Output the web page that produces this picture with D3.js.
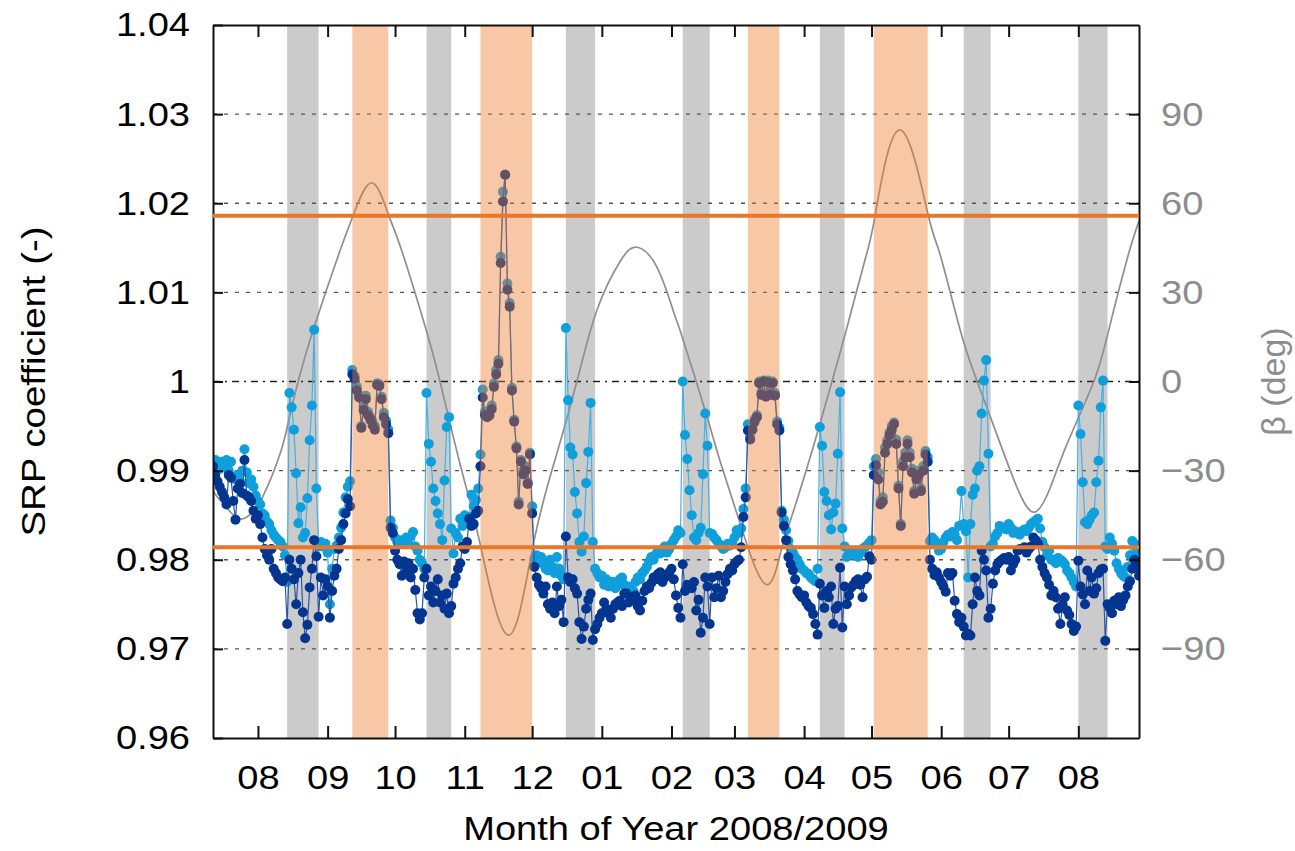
<!DOCTYPE html>
<html>
  <head>
    <title>SRP coefficient and beta angle 2008/2009</title>
    <meta charset="UTF-8">
    <style>
      body { margin: 0; background: #fff; }
      svg { display: block; }
    </style>
  </head>
  <body>

    <svg></svg>

    <script src="https://d3js.org/d3.v7.min.js"></script>
    <script>

/* DATA */

// one value per day, first day is startDay
var startDay = "2008-07-12";
var endDay = "2009-08-28";

var srpLight = [
  .9905,.9912,.9908,.9902,.9910,.9907,.9912,.9900,.9910,.9893,
  .9890,.9895,.9888,.9900,.9924,.9898,.9886,.9890,.9882,.9872,
  .9866,.9862,.9852,.9850,.9843,.9840,.9833,.9828,.9825,.9822,
  .9820,.9815,.9805,
  .9775,.9987,.9971,.9946,.9897,.9841,.9859,.9825,.9830,.9869,.9934,.9973,1.0058,.9880,.9815,
  .9820,.9815,.9818,.9808,.9750,.9790,.9812,.9816,.9825,.9836,.9853,.9870,.9882,.9888,
  1.0013,1.0006,.9994,.9985,.9950,.9972,.9984,.9966,.9960,.9955,.9950,.9998,.9997,.9983,.9965,.9956,.9946,
  .9844,.9836,.9825,.9820,.9818,.9822,.9818,.9825,.9818,.9826,.9831,.9815,.9810,.9800,.9796,.9790,
  .9987,.9930,.9910,.9880,.9866,.9852,.9840,.9822,.9889,.9949,.9960,.9835,
  .9807,.9830,.9825,.9846,.9838,.9850,.9845,.9848,.9873,.9860,.9867,.9880,
  .9918,.9991,.9966,.9964,.9968,.9973,.9998,1.0013,1.0024,1.0140,
  1.0213,1.0232,1.0110,1.0088,.9993,.9957,.9927,.9865,.9912,.9900,
  .9905,.9887,.9920,.9860,
  .9801,.9805,.9798,.9803,.9795,.9790,.9788,.9800,.9792,.9785,.9803,.9790,.9782,.9778,
  1.0060,.9979,.9926,.9918,.9876,.9852,.9820,.9809,.9826,.9886,.9921,.9976,.9820,.9790,
  .9785,.9780,.9782,.9772,.9778,.9770,.9775,.9775,.9768,.9772,
  .9778,.9780,.9772,.9770,.9766,.9770,.9765,.9775,.9780,.9778,
  .9785,.9788,.9792,.9798,.9803,.9800,.9806,.9810,.9807,.9812,
  .9815,.9808,.9812,.9818,.9822,.9826,.9833,.9830,
  1.0000,.9940,.9913,.9878,.9850,.9825,.9822,.9830,.9836,.9896,.9964,.9928,.9830,
  .9829,.9825,.9822,.9818,.9815,.9812,.9814,.9818,.9816,.9819,.9825,.9833,.9830,.9835,.9857,.9880,
  .9952,.9938,.9950,.9958,.9962,1.0000,.9988,1.0001,.9986,1.0001,.9988,1.0000,.9987,.9955,.9948,
  .9855,.9845,.9833,.9821,.9812,.9808,.9803,.9800,.9795,.9790,.9788,.9785,.9784,.9780,.9778,.9776,.9790,
  .9949,.9928,.9876,.9866,.9850,.9834,.9853,.9863,.9919,.9988,.9835,.9815,
  .9803,.9808,.9810,.9806,.9810,.9803,.9808,.9812,.9814,.9816,.9819,.9822,
  .9905,.9913,.9898,.9866,.9870,.9926,.9934,.9943,.9950,.9954,
  .9935,.9883,.9840,.9910,.9920,.9934,.9920,.9902,.9877,.9893,
  .9900,.9880,.9905,.9922,.9915,
  .9821,.9825,.9822,.9818,.9810,.9812,.9820,.9825,.9828,.9826,.9831,.9828,.9822,.9838,.9877,
  .9840,.9832,.9780,.9840,.9873,.9880,.9900,.9905,.9964,1.0001,1.0024,.9919,.9815,
  .9818,.9826,.9830,.9838,.9836,.9835,.9834,.9840,.9836,.9830,
  .9832,.9830,.9828,.9832,.9834,.9832,.9836,.9840,.9842,.9844,
  .9846,.9835,.9820,.9814,.9805,.9810,.9800,.9800,.9796,.9802,
  .9800,.9798,.9795,.9788,.9785,.9780,.9775,.9770,
  .9973,.9941,.9887,.9842,.9840,.9845,.9850,.9853,.9887,.9911,.9971,1.0001,.9815,.9812,
  .9825,.9818,.9810,.9796,.9790,.9785,.9782,.9780,.9792,.9805,.9821,.9818,.9810,.9795
];

var srpDark = [
  .9905,.9895,.9888,.9882,.9876,.9870,.9862,.9895,.9892,.9866,
  .9845,.9880,.9885,.9875,.9912,.9872,.9870,.9866,.9855,.9846,
  .9850,.9840,.9825,.9812,.9805,.9800,.9812,.9790,.9785,.9780,
  .9778,.9776,.9780,
  .9728,.9800,.9790,.9778,.9750,.9785,.9800,.9741,.9712,.9727,.9769,.9790,.9822,.9804,.9736,
  .9780,.9760,.9778,.9770,.9735,.9765,.9782,.9790,.9812,.9822,.9840,.9852,.9868,.9860,
  1.0008,1.0003,.9990,.9982,.9948,.9968,.9980,.9962,.9957,.9951,.9946,.9996,.9995,.9980,.9960,.9952,.9942,
  .9836,.9830,.9810,.9800,.9795,.9782,.9798,.9788,.9796,.9780,.9790,.9766,.9740,.9733,.9740,.9780,
  .9790,.9760,.9770,.9752,.9765,.9778,.9752,.9760,.9745,.9762,.9740,.9748,
  .9773,.9780,.9790,.9796,.9815,.9812,.9820,.9846,.9838,.9840,.9852,.9855,
  .9905,.9982,.9962,.9960,.9962,.9969,.9994,1.0008,1.0020,1.0133,
  1.0202,1.0232,1.0103,1.0084,.9990,.9955,.9925,.9862,.9910,.9896,
  .9900,.9885,.9918,.9852,
  .9792,.9780,.9772,.9768,.9762,.9770,.9750,.9745,.9752,.9740,.9770,.9748,.9755,.9730,
  .9826,.9780,.9775,.9778,.9768,.9762,.9730,.9711,.9725,.9745,.9755,.9762,.9710,.9722,
  .9728,.9735,.9740,.9752,.9745,.9740,.9735,.9745,.9750,.9752,
  .9754,.9748,.9762,.9762,.9752,.9758,.9755,.9760,.9748,.9743,
  .9754,.9765,.9770,.9768,.9774,.9780,.9778,.9784,.9786,.9775,
  .9780,.9782,.9786,.9790,.9778,.9760,.9746,.9735,
  .9795,.9765,.9772,.9770,.9768,.9775,.9743,.9755,.9718,.9735,.9780,.9770,.9728,
  .9780,.9758,.9768,.9782,.9758,.9765,.9775,.9784,.9790,.9788,.9795,.9798,.9800,.9814,.9848,.9870,
  .9945,.9935,.9946,.9955,.9960,.9998,.9985,1.0000,.9983,.9999,.9985,.9998,.9984,.9952,.9945,
  .9853,.9838,.9822,.9803,.9795,.9788,.9778,.9765,.9761,.9758,.9760,.9752,.9748,.9746,.9739,.9728,.9716,
  .9773,.9760,.9746,.9765,.9758,.9770,.9728,.9745,.9748,.9791,.9724,.9770,
  .9750,.9760,.9769,.9772,.9776,.9778,.9772,.9758,.9778,.9781,.9804,.9800,
  .9895,.9906,.9890,.9862,.9865,.9920,.9930,.9940,.9946,.9952,
  .9930,.9880,.9838,.9905,.9915,.9930,.9915,.9898,.9874,.9890,
  .9895,.9877,.9900,.9918,.9910,
  .9800,.9790,.9783,.9786,.9780,.9775,.9770,.9764,.9785,.9782,.9785,.9754,.9739,.9730,.9735,
  .9725,.9715,.9717,.9715,.9750,.9780,.9765,.9760,.9810,.9800,.9788,.9735,.9745,
  .9773,.9788,.9795,.9798,.9800,.9802,.9800,.9803,.9788,.9795,
  .9800,.9810,.9812,.9812,.9814,.9808,.9812,.9815,.9825,.9822,
  .9818,.9800,.9792,.9785,.9780,.9772,.9760,.9765,.9758,.9745,
  .9728,.9750,.9758,.9743,.9738,.9728,.9720,.9725,
  .9799,.9770,.9761,.9750,.9788,.9765,.9780,.9762,.9768,.9785,.9789,.9790,.9709,.9750,
  .9746,.9740,.9754,.9750,.9758,.9748,.9755,.9760,.9770,.9776,.9790,.9800,.9792,.9782
];

// beta angle (deg), read at day offsets from startDay
var betaDay = [0, 6, 12, 17, 22, 30, 34, 38.6, 44.5, 56.5, 62.8, 70.6, 77.9, 84, 94.8,
  101, 110, 118.8, 131.4, 142.6, 153, 161.9, 170.8, 181.2, 188.6, 197.5, 204.9, 207.9,
  215, 221.2, 225.7, 234.6, 245.7, 252.4, 256.8, 265.7, 275.4, 282, 290.1, 294.8, 305.6,
  318, 323.4, 332.5, 340, 350.3, 357.7, 365.2, 372.6, 380, 391.9, 398.5, 407, 412];
var betaDeg = [-37, -42.5, -46.3, -44.5, -39, -24, -12, 2, 17.2, 44, 56.7, 66.9, 56.5, 44, 17.5,
  0, -28, -54.5, -85.4, -54.5, -24.2, 0, 24, 40.5, 45.2, 38.5, 23.5, 17,
  0, -15.4, -27, -48, -68.2, -58, -47, -25.5, 0, 18, 41, 56.7, 84.7,
  56.7, 43, 17.2, 0, -21, -35.6, -44, -35.6, -21, 0, 17.2, 42, 54];

// eclipse seasons (grey) and high beta periods (orange)
var eclipseSeasons = [
  ["2008-08-14", "2008-08-28"], ["2008-10-15", "2008-10-26"], ["2008-12-16", "2008-12-29"],
  ["2009-02-06", "2009-02-18"], ["2009-04-08", "2009-04-19"], ["2009-06-11", "2009-06-23"],
  ["2009-08-01", "2009-08-14"]
];
var highBeta = [
  ["2008-09-12", "2008-09-28"], ["2008-11-08", "2008-12-01"],
  ["2009-03-07", "2009-03-21"], ["2009-05-02", "2009-05-26"]
];
var betaLimit = [-55.8, 55.8];

var srpTicks = [0.96, 0.97, 0.98, 0.99, 1.00, 1.01, 1.02, 1.03, 1.04];
var betaTicks = [-90, -60, -30, 0, 30, 60, 90];

var config = {
  "width": 1295,
  "height": 851,
  "margin": { "top": 25, "right": 156, "bottom": 113, "left": 213 },
  "font": "'Liberation Sans', Arial, Helvetica, sans-serif",
  "fontSize": 34,
  "stretch": 1.12,
  "dot": 5,
  "colors": {
    "light": "#0f9fdc", "lightLine": "#45b1e3",
    "dark": "#033591", "darkLine": "#2b56a6",
    "beta": "#8f8f8f", "eclipse": "#cbcbcb",
    "high": "#eb7a2a", "limit": "#e8772a", "y2": "#8c8c8c"
  }
};

/* BUILD */

var parse = d3.utcParse("%Y-%m-%d");
var day0 = parse(startDay);
function dayDate(d) { return new Date(day0.getTime() + d * 864e5); }

var svg = d3.select("svg")
    .attr("width", config.width)
    .attr("height", config.height)
    .style("font-family", config.font),
    margin = config.margin,
    width = config.width - margin.left - margin.right,
    height = config.height - margin.top - margin.bottom,
    g = svg.append("g").attr("transform", "translate(" + margin.left + "," + margin.top + ")");

var x = d3.scaleUtc().domain([day0, parse(endDay)]).range([0, width]);
var y = d3.scaleLinear().domain([0.96, 1.04]).range([height, 0]);
var y2 = d3.scaleLinear().domain([-120, 120]).range([height, 0]);

// stretch text horizontally (the picture is wider than tall)
function stretch(sel) {
  sel.each(function() {
    var w = this.getComputedTextLength();
    d3.select(this).attr("textLength", w * config.stretch).attr("lengthAdjust", "spacingAndGlyphs");
  });
}

svg.append("defs").append("clipPath").attr("id", "plot")
  .append("rect").attr("width", width).attr("height", height);

var plot = g.append("g").attr("clip-path", "url(#plot)");

// eclipse seasons
plot.append("g").selectAll("rect")
  .data(eclipseSeasons)
  .enter().append("rect")
    .attr("x", function(d) { return x(parse(d[0])); })
    .attr("width", function(d) { return x(parse(d[1])) - x(parse(d[0])); })
    .attr("y", 0)
    .attr("height", height)
    .attr("fill", config.colors.eclipse);

// grid
plot.append("g").selectAll("line")
  .data(srpTicks.slice(1, -1))
  .enter().append("line")
    .attr("x1", 0).attr("x2", width)
    .attr("y1", function(d) { return y(d); })
    .attr("y2", function(d) { return y(d); })
    .attr("stroke", function(d) { return d == 1 ? "#222" : "#555"; })
    .attr("stroke-width", 1.4)
    .attr("stroke-dasharray", function(d) { return d == 1 ? "7,5,2,5" : "4,7"; });

// beta angle
var betaPts = betaDay.map(function(d, i) { return [dayDate(d), betaDeg[i]]; });
plot.append("path")
  .datum(betaPts)
  .attr("fill", "none")
  .attr("stroke", config.colors.beta)
  .attr("stroke-width", 1.7)
  .attr("d", d3.line()
    .curve(d3.curveNatural)
    .x(function(d) { return x(d[0]); })
    .y(function(d) { return y2(d[1]); }));

// the two SRP series
function drawSeries(values, dotColor, lineColor) {
  var pts = values.map(function(v, i) { return [d3.utcDay.offset(day0, i), v]; });
  var s = plot.append("g");
  s.append("path")
    .datum(pts)
    .attr("fill", "none")
    .attr("stroke", lineColor)
    .attr("stroke-width", 1.2)
    .attr("d", d3.line()
      .x(function(d) { return x(d[0]); })
      .y(function(d) { return y(d[1]); }));
  s.selectAll("circle")
    .data(pts)
    .enter().append("circle")
      .attr("cx", function(d) { return x(d[0]); })
      .attr("cy", function(d) { return y(d[1]); })
      .attr("r", config.dot)
      .attr("fill", dotColor);
}
drawSeries(srpLight, config.colors.light, config.colors.lightLine);
drawSeries(srpDark, config.colors.dark, config.colors.darkLine);

// axes
var monthTicks = x.ticks(d3.utcMonth.every(1));

function styleAxis(a) {
  a.attr("font-family", null).attr("font-size", null);
  a.select(".domain").attr("stroke", "#111").attr("stroke-width", 2);
  a.selectAll(".tick line").attr("stroke", "#111").attr("stroke-width", 2);
  a.selectAll("text").style("font-size", config.fontSize + "px");
}

var xb = g.append("g")
  .attr("transform", "translate(0," + height + ")")
  .call(d3.axisBottom(x).tickValues(monthTicks).tickFormat(d3.utcFormat("%m"))
    .tickSizeInner(-12).tickSizeOuter(0).tickPadding(27));
styleAxis(xb);
xb.selectAll("text").attr("fill", "#000").call(stretch);

var xt = g.append("g")
  .call(d3.axisTop(x).tickValues(monthTicks).tickFormat("")
    .tickSizeInner(-12).tickSizeOuter(0));
styleAxis(xt);

var yl = g.append("g")
  .call(d3.axisLeft(y).tickValues(srpTicks)
    .tickFormat(function(d) { return d == 1 ? "1" : d3.format(".2f")(d); })
    .tickSizeInner(-10).tickSizeOuter(0).tickPadding(23));
styleAxis(yl);
yl.selectAll("text").attr("fill", "#000").call(stretch);

var yr = g.append("g")
  .attr("transform", "translate(" + width + ",0)")
  .call(d3.axisRight(y2).tickValues(betaTicks)
    .tickSizeInner(-10).tickSizeOuter(0).tickPadding(22));
styleAxis(yr);
yr.selectAll("text").attr("fill", config.colors.y2).call(stretch);

// high beta periods, drawn over everything as a light veil
plot.append("g").selectAll("rect")
  .data(highBeta)
  .enter().append("rect")
    .attr("x", function(d) { return x(parse(d[0])); })
    .attr("width", function(d) { return x(parse(d[1])) - x(parse(d[0])); })
    .attr("y", 0)
    .attr("height", height)
    .attr("fill", config.colors.high)
    .attr("fill-opacity", 0.42);

// beta limits
g.append("g").selectAll("line")
  .data(betaLimit)
  .enter().append("line")
    .attr("x1", 0).attr("x2", width)
    .attr("y1", function(d) { return y2(d); })
    .attr("y2", function(d) { return y2(d); })
    .attr("stroke", config.colors.limit)
    .attr("stroke-width", 4);

// titles
g.append("text")
  .attr("x", width / 2)
  .attr("y", height + 102)
  .attr("text-anchor", "middle")
  .style("font-size", config.fontSize + "px")
  .text("Month of Year 2008/2009")
  .call(stretch);

svg.append("text")
  .attr("transform", "translate(45," + (margin.top + height / 2) + ") rotate(-90)")
  .attr("text-anchor", "middle")
  .style("font-size", config.fontSize + "px")
  .attr("textLength", 310)
  .attr("lengthAdjust", "spacingAndGlyphs")
  .text("SRP coefficient (-)");

svg.append("text")
  .attr("transform", "translate(1285," + (margin.top + height / 2) + ") rotate(-90)")
  .attr("text-anchor", "middle")
  .attr("fill", config.colors.y2)
  .style("font-size", config.fontSize + "px")
  .text("β (deg)");

    </script>
  </body>
</html>
